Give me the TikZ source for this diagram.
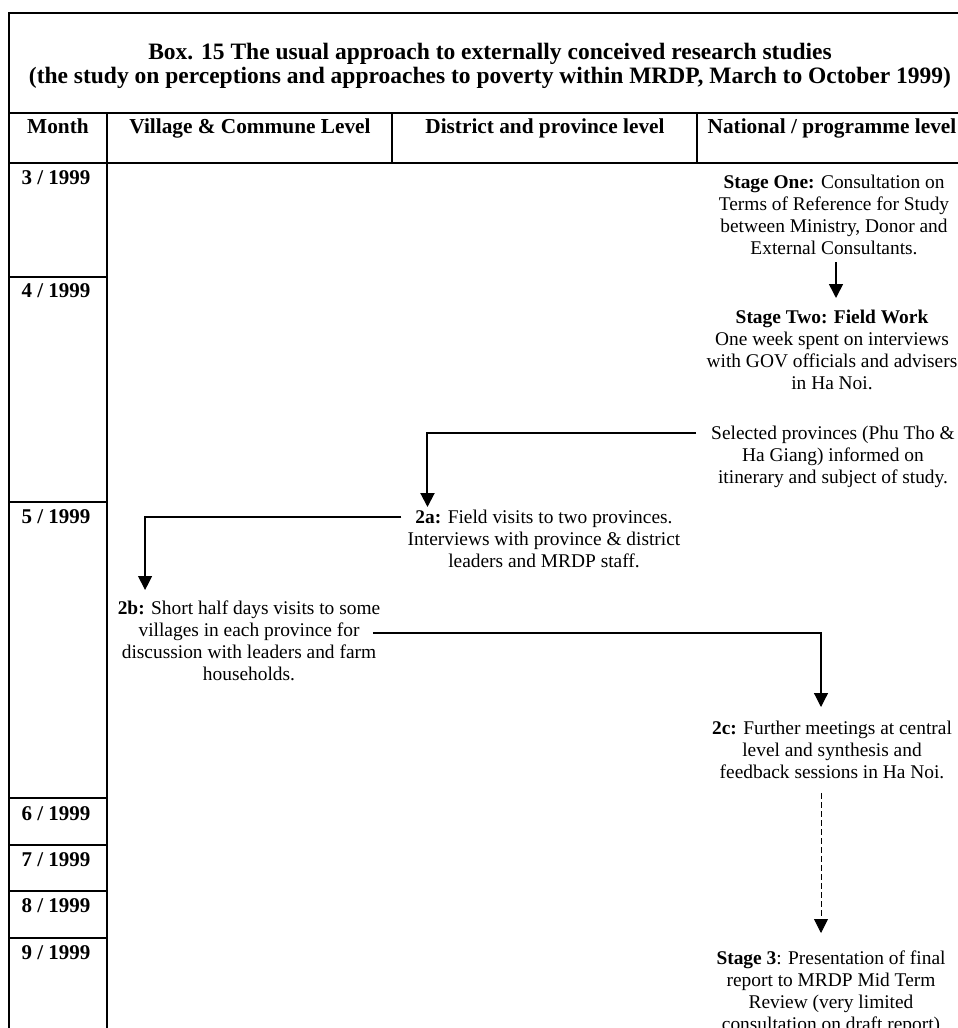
\documentclass[tikz,border=0pt]{standalone}
\usepackage{fontspec}
\setmainfont{Liberation Serif}
\usetikzlibrary{arrows.meta}

\begin{document}
\begin{tikzpicture}[x=1pt,y=-1pt,
  rule/.style={line width=1.3pt},
  body/.style={font=\fontsize{19.4}{22}\selectfont, align=center, anchor=north, inner sep=0pt},
  headtxt/.style={font=\fontsize{21.3}{24}\selectfont\bfseries, anchor=north, inner sep=0pt},
  monthlbl/.style={font=\fontsize{21}{24}\selectfont\bfseries, anchor=north, inner sep=0pt},
  flow/.style={line width=1.2pt, -{Triangle[length=14pt,width=14pt]}},
]
\useasboundingbox (0,0) rectangle (958,1028);
\clip (0,0) rectangle (958,1028);

% table frame
\draw[rule] (9,1032) -- (9,13) -- (962,13);
\draw[rule] (9,113) -- (962,113);
\draw[rule] (9,163) -- (962,163);
\draw[rule] (107,113) -- (107,1032);
\draw[rule] (392,113) -- (392,163);
\draw[rule] (697,113) -- (697,163);
\foreach \y in {277,502,798,845,891,938} \draw[rule] (9,\y) -- (107,\y);

% title
\node[font=\fontsize{23.5}{24}\selectfont\bfseries, align=center, anchor=north, inner sep=0pt] (title) at (490,42.5)
  {Box. 15 The usual approach to externally conceived research studies\\(the study on perceptions and approaches to poverty within MRDP, March to October 1999)};

% column headings
\node[headtxt] (hmonth) at (58,118.5) {Month};
\node[headtxt] (hvill) at (250,118.5) {Village \& Commune Level};
\node[headtxt] (hdist) at (545,118.5) {District and province level};
\node[headtxt] (hnat) at (832,118.5) {National / programme level};

% months
\node[monthlbl] (m3) at (56,170) {3 / 1999};
\node[monthlbl] (m4) at (56,283) {4 / 1999};
\node[monthlbl] (m5) at (56,509) {5 / 1999};
\node[monthlbl] (m6) at (56,806) {6 / 1999};
\node[monthlbl] (m7) at (56,852) {7 / 1999};
\node[monthlbl] (m8) at (56,898) {8 / 1999};
\node[monthlbl] (m9) at (56,945) {9 / 1999};

% stages
\node[body] (s1) at (834,175) {\textbf{Stage One:} Consultation on\\Terms of Reference for Study\\between Ministry, Donor and\\External Consultants.};
\node[body] (s2) at (832,310) {\textbf{Stage Two: Field Work}\\One week spent on interviews\\with GOV officials and advisers\\in Ha Noi.};
\node[body] (sel) at (833,426) {Selected provinces (Phu Tho \&\\Ha Giang) informed on\\itinerary and subject of study.};
\node[body] (twoa) at (544,510) {\textbf{2a:} Field visits to two provinces.\\Interviews with province \& district\\leaders and MRDP staff.};
\node[body] (twob) at (249,601) {\textbf{2b:} Short half days visits to some\\villages in each province for\\discussion with leaders and farm\\households.};
\node[body] (twoc) at (832,721) {\textbf{2c:} Further meetings at central\\level and synthesis and\\feedback sessions in Ha Noi.};
\node[body] (s3) at (831,951) {\textbf{Stage 3}: Presentation of final\\report to MRDP Mid Term\\Review (very limited\\consultation on draft report)};

% connectors
\draw[flow, line width=1.6pt] ([shift={(2,87)}]s1.north) -- ([shift={(4,-12)}]s2.north);
\draw[flow, line width=2pt] ([shift={(-15,7)}]sel.north west) -| ([shift={(20,-3)}]twoa.north west);
\draw[flow] ([shift={(-6,7)}]twoa.north west) -| ([shift={(27.5,-11)}]twob.north west);
\draw[flow] ([shift={(-7.5,32)}]twob.north east) -| ([shift={(-11,-14)}]twoc.north);
\draw[flow, line width=0.8pt, dash pattern=on 6pt off 3pt] ([shift={(-11,72)}]twoc.north) -- ([shift={(-10,-18)}]s3.north);
\end{tikzpicture}
\end{document}
